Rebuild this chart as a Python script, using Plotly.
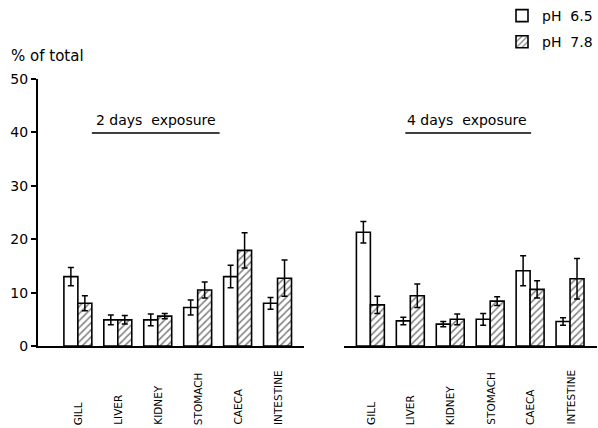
import plotly.graph_objects as go

# Organs sampled
organs = ["GILL", "LIVER", "KIDNEY", "STOMACH", "CAECA", "INTESTINE"]

# % of total, 2 days exposure
d2_ph65 = [13.0, 4.9, 4.9, 7.2, 13.0, 8.0]
d2_ph65_err = [1.7, 0.9, 1.1, 1.4, 2.1, 1.1]
d2_ph78 = [8.0, 4.9, 5.6, 10.5, 17.9, 12.7]
d2_ph78_err = [1.4, 0.8, 0.5, 1.5, 3.3, 3.4]

# % of total, 4 days exposure
d4_ph65 = [21.3, 4.7, 4.1, 5.0, 14.1, 4.6]
d4_ph65_err = [2.0, 0.7, 0.5, 1.1, 2.8, 0.7]
d4_ph78 = [7.7, 9.4, 5.0, 8.4, 10.6, 12.6]
d4_ph78_err = [1.6, 2.2, 1.0, 0.8, 1.6, 3.8]

y_ticks = [0, 10, 20, 30, 40, 50]

FONT = "DejaVu Sans"
W, H = 598, 428


def px_x(p):
    return p / W


def px_y(p):
    return 1 - p / H


def err(vals):
    return dict(type="data", array=vals, visible=True, color="black",
                thickness=1.5, width=3)


open_style = dict(color="white", line=dict(color="black", width=1.6))
hatch_style = dict(color="white", line=dict(color="black", width=1.6),
                   pattern=dict(shape="/", fgcolor="black", bgcolor="white",
                                size=5, solidity=0.3))

fig = go.Figure()
fig.add_trace(go.Bar(x=organs, y=d2_ph65, error_y=err(d2_ph65_err), marker=open_style,
                     name="pH  6.5", xaxis="x", yaxis="y", legendgroup="a"))
fig.add_trace(go.Bar(x=organs, y=d2_ph78, error_y=err(d2_ph78_err), marker=hatch_style,
                     name="pH  7.8", xaxis="x", yaxis="y", legendgroup="b"))
fig.add_trace(go.Bar(x=organs, y=d4_ph65, error_y=err(d4_ph65_err), marker=open_style,
                     name="pH  6.5", xaxis="x2", yaxis="y2", showlegend=False))
fig.add_trace(go.Bar(x=organs, y=d4_ph78, error_y=err(d4_ph78_err), marker=hatch_style,
                     name="pH  7.8", xaxis="x2", yaxis="y2", showlegend=False))

y_dom = [px_y(346), px_y(79)]

fig.update_layout(
    width=W, height=H,
    margin=dict(l=0, r=0, t=0, b=0),
    paper_bgcolor="white", plot_bgcolor="white",
    font=dict(family=FONT, size=14, color="black"),
    barmode="group", bargap=0.3, bargroupgap=0,
    showlegend=True,
    legend=dict(x=px_x(503), y=1.0, xanchor="left", yanchor="top",
                font=dict(size=14), tracegroupgap=5, traceorder="grouped",
                bgcolor="rgba(0,0,0,0)"),
    xaxis=dict(domain=[px_x(38), px_x(305)], range=[-1.0, 5.675],
               showline=True, linecolor="black", linewidth=1.5,
               showticklabels=False, ticks="", showgrid=False, zeroline=False,
               automargin=False),
    xaxis2=dict(domain=[px_x(345), 1.0], range=[-0.65, 5.675], anchor="y2",
                showline=True, linecolor="black", linewidth=1.5,
                showticklabels=False, ticks="", showgrid=False, zeroline=False,
                automargin=False),
    yaxis=dict(domain=y_dom, range=[0, 50], tickvals=y_ticks,
               showline=True, linecolor="black", linewidth=2,
               ticks="outside", ticklen=5, tickwidth=1.5, tickcolor="black",
               showgrid=False, zeroline=False, automargin=False,
               tickfont=dict(size=14)),
    yaxis2=dict(domain=y_dom, range=[0, 50], anchor="x2", visible=False),
)

annotations = [
    dict(text="% of total", x=px_x(9), y=px_y(56), xref="paper", yref="paper",
         xanchor="left", yanchor="middle", showarrow=False, font=dict(size=15)),
    dict(text="2 days  exposure", x=px_x(156), y=px_y(120), xref="paper", yref="paper",
         xanchor="center", yanchor="middle", showarrow=False, font=dict(size=14)),
    dict(text="4 days  exposure", x=px_x(468), y=px_y(120), xref="paper", yref="paper",
         xanchor="center", yanchor="middle", showarrow=False, font=dict(size=14)),
]
for ax in ("x", "x2"):
    for organ in organs:
        annotations.append(dict(text=organ, x=organ, xref=ax, y=px_y(427), yref="paper",
                                textangle=-90, xanchor="center", yanchor="bottom",
                                showarrow=False, font=dict(size=10.5)))
fig.update_layout(annotations=annotations)

fig.update_layout(shapes=[
    dict(type="line", xref="paper", yref="paper", x0=px_x(92), x1=px_x(220),
         y0=px_y(133), y1=px_y(133), line=dict(color="black", width=1.5)),
    dict(type="line", xref="paper", yref="paper", x0=px_x(406), x1=px_x(532),
         y0=px_y(133), y1=px_y(133), line=dict(color="black", width=1.5)),
])

fig.write_html("out.html")
